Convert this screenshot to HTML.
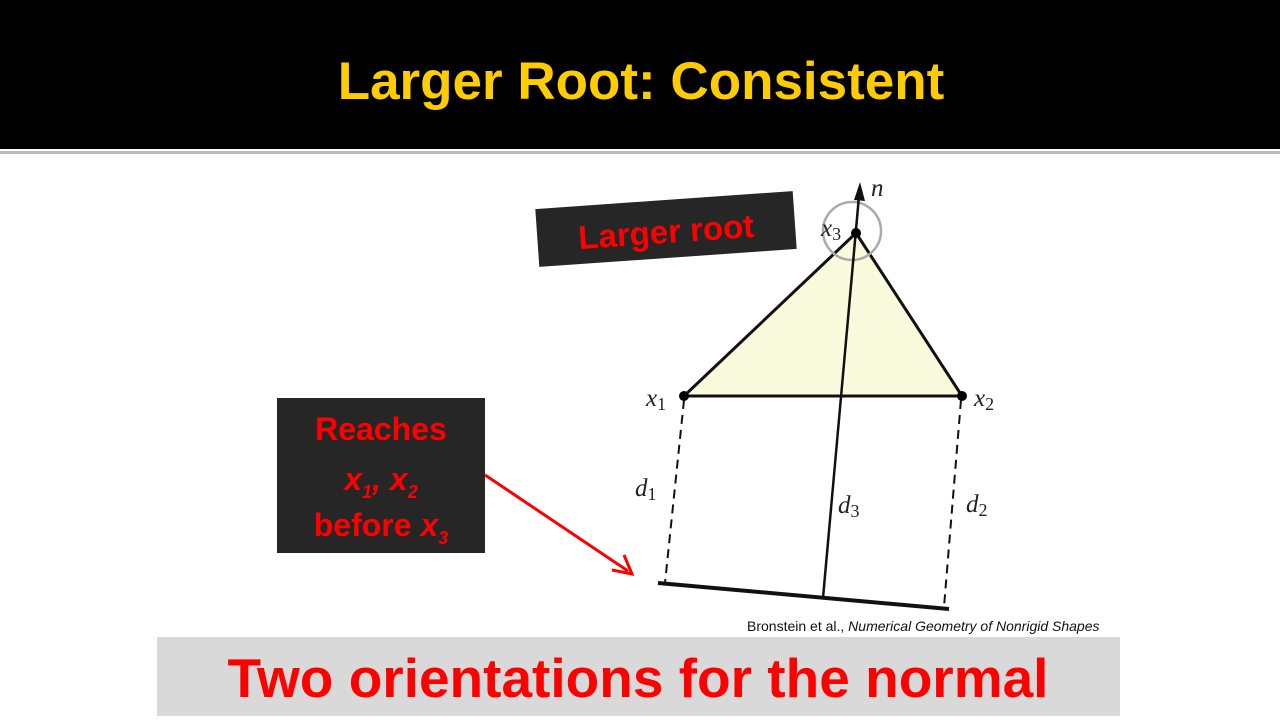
<!DOCTYPE html>
<html><head><meta charset="utf-8"><style>
body{margin:0;width:1280px;height:716px;overflow:hidden;background:#fff;font-family:"Liberation Sans",sans-serif}
</style></head><body>
<svg width="1280" height="716" xmlns="http://www.w3.org/2000/svg">
<rect x="0" y="0" width="1280" height="149" fill="#000"/>
<rect x="0" y="151" width="1280" height="3" fill="#bbb"/>
<text x="641" y="99" text-anchor="middle" font-family="Liberation Sans" font-weight="bold" font-size="53" fill="#FFCC00">Larger Root: Consistent</text>
<g transform="rotate(-4 666 229)">
<rect x="537" y="200" width="258" height="58" fill="#262626"/>
<text x="666" y="243" text-anchor="middle" font-weight="bold" font-size="33" fill="#ff0000">Larger root</text>
</g>
<polygon points="684,396 856,233 962,396" fill="#fafadc" stroke="#111" stroke-width="3" stroke-linejoin="round"/>
<circle cx="852" cy="231" r="29" fill="none" stroke="#aaa" stroke-width="2.5"/>
<line x1="823" y1="598" x2="859" y2="196" stroke="#111" stroke-width="2.5"/>
<polygon points="860,182 854,200 865,201" fill="#111"/>
<line x1="684" y1="400" x2="665" y2="583" stroke="#111" stroke-width="2" stroke-dasharray="9,6"/>
<line x1="961" y1="400" x2="944" y2="607" stroke="#111" stroke-width="2" stroke-dasharray="9,6"/>
<line x1="658" y1="583" x2="949" y2="609" stroke="#111" stroke-width="4"/>
<circle cx="684" cy="396" r="5" fill="#000"/><circle cx="962" cy="396" r="5" fill="#000"/><circle cx="856" cy="233" r="5" fill="#000"/>
<g font-family="Liberation Serif" font-style="italic" font-size="25" fill="#222">
<text x="871" y="196">n</text>
<text x="821" y="236">x<tspan font-size="18" font-style="normal" dy="4">3</tspan></text>
<text x="646" y="406">x<tspan font-size="18" font-style="normal" dy="4">1</tspan></text>
<text x="974" y="406">x<tspan font-size="18" font-style="normal" dy="4">2</tspan></text>
<text x="635" y="496">d<tspan font-size="18" font-style="normal" dy="4">1</tspan></text>
<text x="838" y="513">d<tspan font-size="18" font-style="normal" dy="4">3</tspan></text>
<text x="966" y="512">d<tspan font-size="18" font-style="normal" dy="4">2</tspan></text>
</g>
<rect x="277" y="398" width="208" height="155" fill="#262626"/>
<g font-weight="bold" font-size="32" fill="#ff0000" text-anchor="middle">
<text x="381" y="440">Reaches</text>
<text x="381" y="490" font-style="italic">x<tspan font-size="18" dy="8">1</tspan><tspan dy="-8">, x</tspan><tspan font-size="18" dy="8">2</tspan></text>
<text x="381" y="536">before <tspan font-style="italic">x</tspan><tspan font-size="18" dy="8" font-style="italic">3</tspan></text>
</g>
<line x1="485" y1="475" x2="628" y2="571" stroke="#ff0000" stroke-width="3"/>
<polyline points="612,570 632,574 624,555" fill="none" stroke="#ff0000" stroke-width="3"/>
<text x="747" y="631" font-size="14" fill="#111">Bronstein et al., <tspan font-style="italic">Numerical Geometry of Nonrigid Shapes</tspan></text>
<rect x="157" y="637" width="963" height="79" fill="#d9d9d9"/>
<text x="638" y="697" text-anchor="middle" font-weight="bold" font-size="55" fill="#ff0000">Two orientations for the normal</text>
</svg>
</body></html>
